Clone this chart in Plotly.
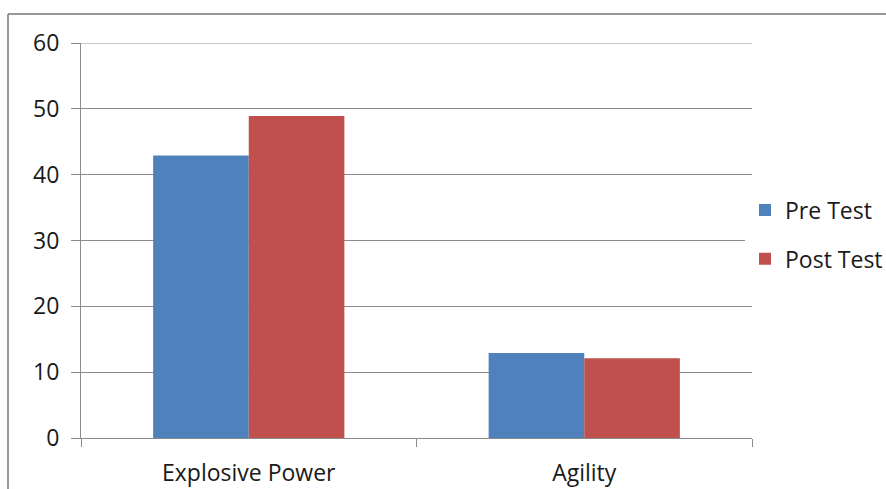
import plotly.graph_objects as go

categories = ["Explosive Power", "Agility"]
pre_test = [42.9, 12.9]
post_test = [48.9, 12.1]
y_ticks = [0, 10, 20, 30, 40, 50, 60]

grey = "#8c8c8c"
font_family = "'Open Sans', sans-serif"

fig = go.Figure()
fig.add_trace(go.Bar(name="Pre Test", x=categories, y=pre_test, marker_color="#4F81BD",
                     marker_line_width=0, legendgroup="a"))
fig.add_trace(go.Bar(name="Post Test", x=categories, y=post_test, marker_color="#C0504D",
                     marker_line_width=0, legendgroup="b"))

W, H = 886, 489
L, R, T, B = 81, 134, 43, 50.5

fig.update_layout(
    width=W, height=H,
    margin=dict(l=L, r=R, t=T, b=B, pad=0, autoexpand=False),
    paper_bgcolor="white", plot_bgcolor="white",
    barmode="group", bargap=0.43, bargroupgap=0,
    font=dict(family=font_family, size=23, color="#1a1a1a"),
    legend=dict(xref="container", yref="container", x=745 / W, y=1 - 234.5 / H,
                xanchor="left", yanchor="middle",
                tracegroupgap=16, itemwidth=30,
                font=dict(size=23, color="#1a1a1a")),
    showlegend=True,
)
fig.update_yaxes(range=[0, 60], tickvals=y_ticks, showgrid=True, gridcolor=grey, gridwidth=1,
                 showline=True, linecolor=grey, linewidth=1, ticks="outside", ticklen=9,
                 tickcolor=grey, zeroline=False, ticklabelstandoff=7)
fig.update_xaxes(showline=True, linecolor=grey, linewidth=1, ticks="outside", ticklen=8,
                 tickcolor=grey, tickson="boundaries", showgrid=False, ticklabelstandoff=14)

pw = W - L - R
ph = H - T - B
# top gridline at the range edge
fig.add_shape(type="line", xref="paper", yref="y", x0=0, x1=1, y0=60, y1=60,
              line=dict(color=grey, width=1))
# outer chart border (top and left edges visible)
bx = (8 - L) / pw
by = 1 + (T - 14) / ph
fig.add_shape(type="line", xref="paper", yref="paper", x0=bx, x1=1.5, y0=by, y1=by,
              line=dict(color="#777777", width=1.5))
fig.add_shape(type="line", xref="paper", yref="paper", x0=bx, x1=bx, y0=-0.3, y1=by,
              line=dict(color="#777777", width=1.5))

fig.write_html(
    "out.html",
    config={"displayModeBar": False},
    post_script="document.body.style.margin='0';document.body.style.overflow='hidden';",
)
